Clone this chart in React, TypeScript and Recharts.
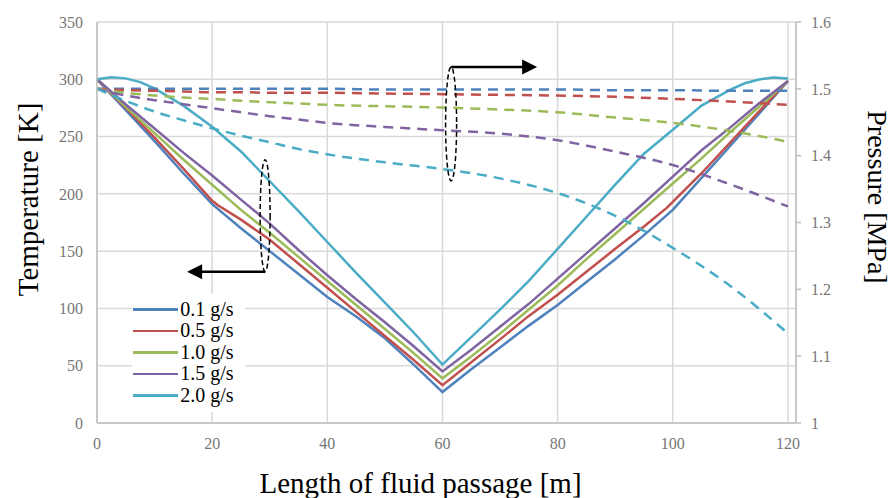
import React from 'react';
import { LineChart, Line, XAxis, YAxis, CartesianGrid, ReferenceDot } from 'recharts';

// positions along the passage [m] where temperatures were read
const lengthT = [0, 2.5, 5, 7.5, 10, 15, 20, 21, 25, 30, 35, 40, 45, 50, 55, 60, 65, 70, 75, 80, 85, 90, 95, 99, 100, 105, 110, 112.5, 115, 117.5, 120];

const temp01 = [300, null, 273, null, 246, 218, 191, null, 170, 150, 130, 110, 93, 74, 51, 27, 47, 66, 85, 103, 123, 143, 164, null, 186, 214, 242, null, 270, null, 298.5];
const temp05 = [300, null, 275, null, 249, 222, 194, 190, 177.5, 160, 139, 118, 97, 76, 55, 33, 53, 73, 93.5, 112, 132, 152, 171.5, 188, 193, 218, 245, null, 272, null, 298.5];
const temp10 = [300, null, 276, null, 253, 230, 208, null, 186, 166, 145, 124, 103, 82, 61, 39, 58, 78, 99, 120, 143, 165, 187, null, 209, 231, 254, null, 276, null, 298.5];
const temp15 = [300, null, 278, null, 257, 236, 216, null, 195, 174, 151, 129, 108, 88, 67, 45, 64, 84, 104, 126, 148, 170, 192, null, 215, 238, 258, null, 279, null, 298.5];
const temp20 = [300, 301.7, 300.8, 297.5, 292, 277, 258.5, null, 237, 211, 185, 158, 131, 105, 79, 51, 75, 99, 124, 152, 180, 208, 235, null, 256, 277, 291, 296.5, 299.8, 301.6, 300.7];

// positions where pressures were read
const lengthP = [0, 5, 10, 15, 20, 25, 30, 35, 40, 50, 60, 70, 80, 90, 100, 110, 120];

const pres01 = [1.5, 1.5, 1.5, 1.5, 1.5, 1.5, 1.5, 1.5, 1.5, 1.499, 1.499, 1.499, 1.499, 1.498, 1.498, 1.497, 1.497];
const pres05 = [1.5, 1.498, 1.497, 1.496, 1.495, 1.495, 1.494, 1.494, 1.494, 1.493, 1.492, 1.491, 1.49, 1.488, 1.485, 1.481, 1.476];
const pres10 = [1.5, 1.494, 1.49, 1.487, 1.485, 1.482, 1.48, 1.478, 1.476, 1.474, 1.472, 1.469, 1.465, 1.457, 1.449, 1.437, 1.421];
const pres15 = [1.5, 1.49, 1.483, 1.477, 1.471, 1.465, 1.459, 1.454, 1.449, 1.443, 1.438, 1.433, 1.423, 1.406, 1.386, 1.357, 1.324];
const pres20 = [1.5, 1.482, 1.466, 1.453, 1.441, 1.43, 1.42, 1.41, 1.402, 1.39, 1.38, 1.366, 1.344, 1.31, 1.262, 1.205, 1.134];

const flowNames = ['0.1 g/s', '0.5 g/s', '1.0 g/s', '1.5 g/s', '2.0 g/s'];
const colors = ['#4F81BD', '#C0504D', '#9BBB59', '#8064A2', '#4BACC6'];

const xTicks = [0, 20, 40, 60, 80, 100, 120];
const tempTicks = [0, 50, 100, 150, 200, 250, 300, 350];
const presTicks = [1, 1.1, 1.2, 1.3, 1.4, 1.5, 1.6];

// where the dashed ellipses sit (length, temperature)
const leftMark = { x: 29.2, t: 181 };
const rightMark = { x: 61.5, t: 261 };

const toRows = (xs: number[], ys: (number | null)[]) => xs.map((x, i) => ({ x, v: ys[i] }));

const tempSeries = [temp01, temp05, temp10, temp15, temp20].map((ys) => toRows(lengthT, ys));
const presSeries = [pres01, pres05, pres10, pres15, pres20].map((ys) => toRows(lengthP, ys));

const serif = '"Liberation Serif", "Times New Roman", serif';
const tickColor = '#767676';

const fmtPres = (v: number) => (v === 1 ? '1' : v.toFixed(1));

const BottomTick = ({ x, y, payload }: any) => (
  <text x={x} y={y} dy="0.71em" textAnchor="middle" fontSize={16} fontFamily={serif} fill={tickColor}>
    {payload.value}
  </text>
);

const LeftTick = ({ x, y, payload }: any) => (
  <text x={x} y={y} dy="0.355em" textAnchor="end" fontSize={16} fontFamily={serif} fill={tickColor}>
    {payload.value}
  </text>
);

const RightTick = ({ x, y, payload }: any) => (
  <text x={x} y={y} dy="0.355em" textAnchor="start" fontSize={16} fontFamily={serif} fill={tickColor}>
    {fmtPres(payload.value)}
  </text>
);

const TempTitle = () => (
  <text x={37.5} y={199.5} transform="rotate(-90 37.5 199.5)" textAnchor="middle" fontSize={29} fontFamily={serif} fill="#000">
    Temperature [K]
  </text>
);

const PresTitle = () => (
  <text x={868} y={197} transform="rotate(90 868 197)" textAnchor="middle" fontSize={28} fontFamily={serif} fill="#000">
    Pressure [MPa]
  </text>
);

const LengthTitle = () => (
  <text x={420.5} y={493} textAnchor="middle" fontSize={29} fontFamily={serif} fill="#000">
    Length of fluid passage [m]
  </text>
);

const LeftMarker = (props: any) => {
  const { cx, cy } = props;
  const ay = cy + 56;
  return (
    <g>
      <ellipse cx={cx} cy={cy} rx={5} ry={56} fill="none" stroke="#000" strokeWidth={1.5} strokeDasharray="5 3" />
      <line x1={cx} y1={ay} x2={cx - 64} y2={ay} stroke="#000" strokeWidth={2.5} />
      <polygon points={`${cx - 78},${ay} ${cx - 63},${ay - 7.5} ${cx - 63},${ay + 7.5}`} fill="#000" />
    </g>
  );
};

const RightMarker = (props: any) => {
  const { cx, cy } = props;
  const ay = cy - 57;
  return (
    <g>
      <ellipse cx={cx} cy={cy} rx={5.5} ry={57} fill="none" stroke="#000" strokeWidth={1.5} strokeDasharray="5 3" />
      <line x1={cx} y1={ay} x2={cx + 72} y2={ay} stroke="#000" strokeWidth={2.5} />
      <polygon points={`${cx + 86},${ay} ${cx + 71},${ay - 7.5} ${cx + 71},${ay + 7.5}`} fill="#000" />
    </g>
  );
};

const FlowLegend = () => (
  <div
    style={{
      position: 'absolute',
      left: 132,
      top: 294,
      width: 113,
      height: 118,
      background: '#fff',
      paddingTop: 4.5,
      boxSizing: 'border-box',
    }}
  >
    {flowNames.map((name, i) => (
      <div key={name} style={{ display: 'flex', alignItems: 'center', height: 21.6 }}>
        <div style={{ width: 45, height: 2.5, background: colors[i], marginLeft: 1.3 }} />
        <span
          style={{
            display: 'inline-block',
            height: 21.6,
            marginLeft: 2,
            fontSize: 20,
            lineHeight: '21.6px',
            fontFamily: serif,
            color: '#000',
            whiteSpace: 'nowrap',
          }}
        >
          {name}
        </span>
      </div>
    ))}
  </div>
);

export default function App() {
  return (
    <div style={{ position: 'absolute', left: 0, top: 0, width: 895, height: 498, background: '#fff', overflow: 'hidden' }}>
      <LineChart width={895} height={498} margin={{ top: 22, right: 0, bottom: 0, left: 0 }}>
        <CartesianGrid xAxisId="len" yAxisId="temp" stroke="#d9d9d9" strokeWidth={1.5} />
        <XAxis
          xAxisId="len"
          dataKey="x"
          type="number"
          domain={[0, 121.4]}
          ticks={xTicks}
          height={75}
          tickSize={0}
          tickMargin={15}
          tick={BottomTick}
          axisLine={{ stroke: '#bfbfbf', strokeWidth: 1.5 }}
          tickLine={false}
          label={LengthTitle}
        />
        <YAxis
          yAxisId="temp"
          orientation="left"
          domain={[0, 350]}
          ticks={tempTicks}
          width={97}
          tickSize={0}
          tickMargin={14}
          tick={LeftTick}
          axisLine={{ stroke: '#bfbfbf', strokeWidth: 1.5 }}
          tickLine={false}
          label={TempTitle}
        />
        <YAxis
          yAxisId="pres"
          orientation="right"
          domain={[1, 1.6]}
          ticks={presTicks}
          width={99}
          tickSize={5}
          tickMargin={10}
          tick={RightTick}
          axisLine={{ stroke: '#bfbfbf', strokeWidth: 1.5 }}
          tickLine={{ stroke: '#bfbfbf', strokeWidth: 1.5 }}
          label={PresTitle}
        />
        {tempSeries.map((rows, i) => (
          <Line
            key={`t${i}`}
            xAxisId="len"
            yAxisId="temp"
            data={rows}
            dataKey="v"
            name={flowNames[i]}
            type="linear"
            stroke={colors[i]}
            strokeWidth={2.5}
            dot={false}
            connectNulls
            isAnimationActive={false}
          />
        ))}
        {presSeries.map((rows, i) => (
          <Line
            key={`p${i}`}
            xAxisId="len"
            yAxisId="pres"
            data={rows}
            dataKey="v"
            name={`${flowNames[i]} pressure`}
            type="monotone"
            stroke={colors[i]}
            strokeWidth={2.5}
            strokeDasharray="10 7"
            dot={false}
            connectNulls
            isAnimationActive={false}
          />
        ))}
        <ReferenceDot xAxisId="len" yAxisId="temp" x={leftMark.x} y={leftMark.t} shape={LeftMarker} />
        <ReferenceDot xAxisId="len" yAxisId="temp" x={rightMark.x} y={rightMark.t} shape={RightMarker} />
      </LineChart>
      <FlowLegend />
    </div>
  );
}
